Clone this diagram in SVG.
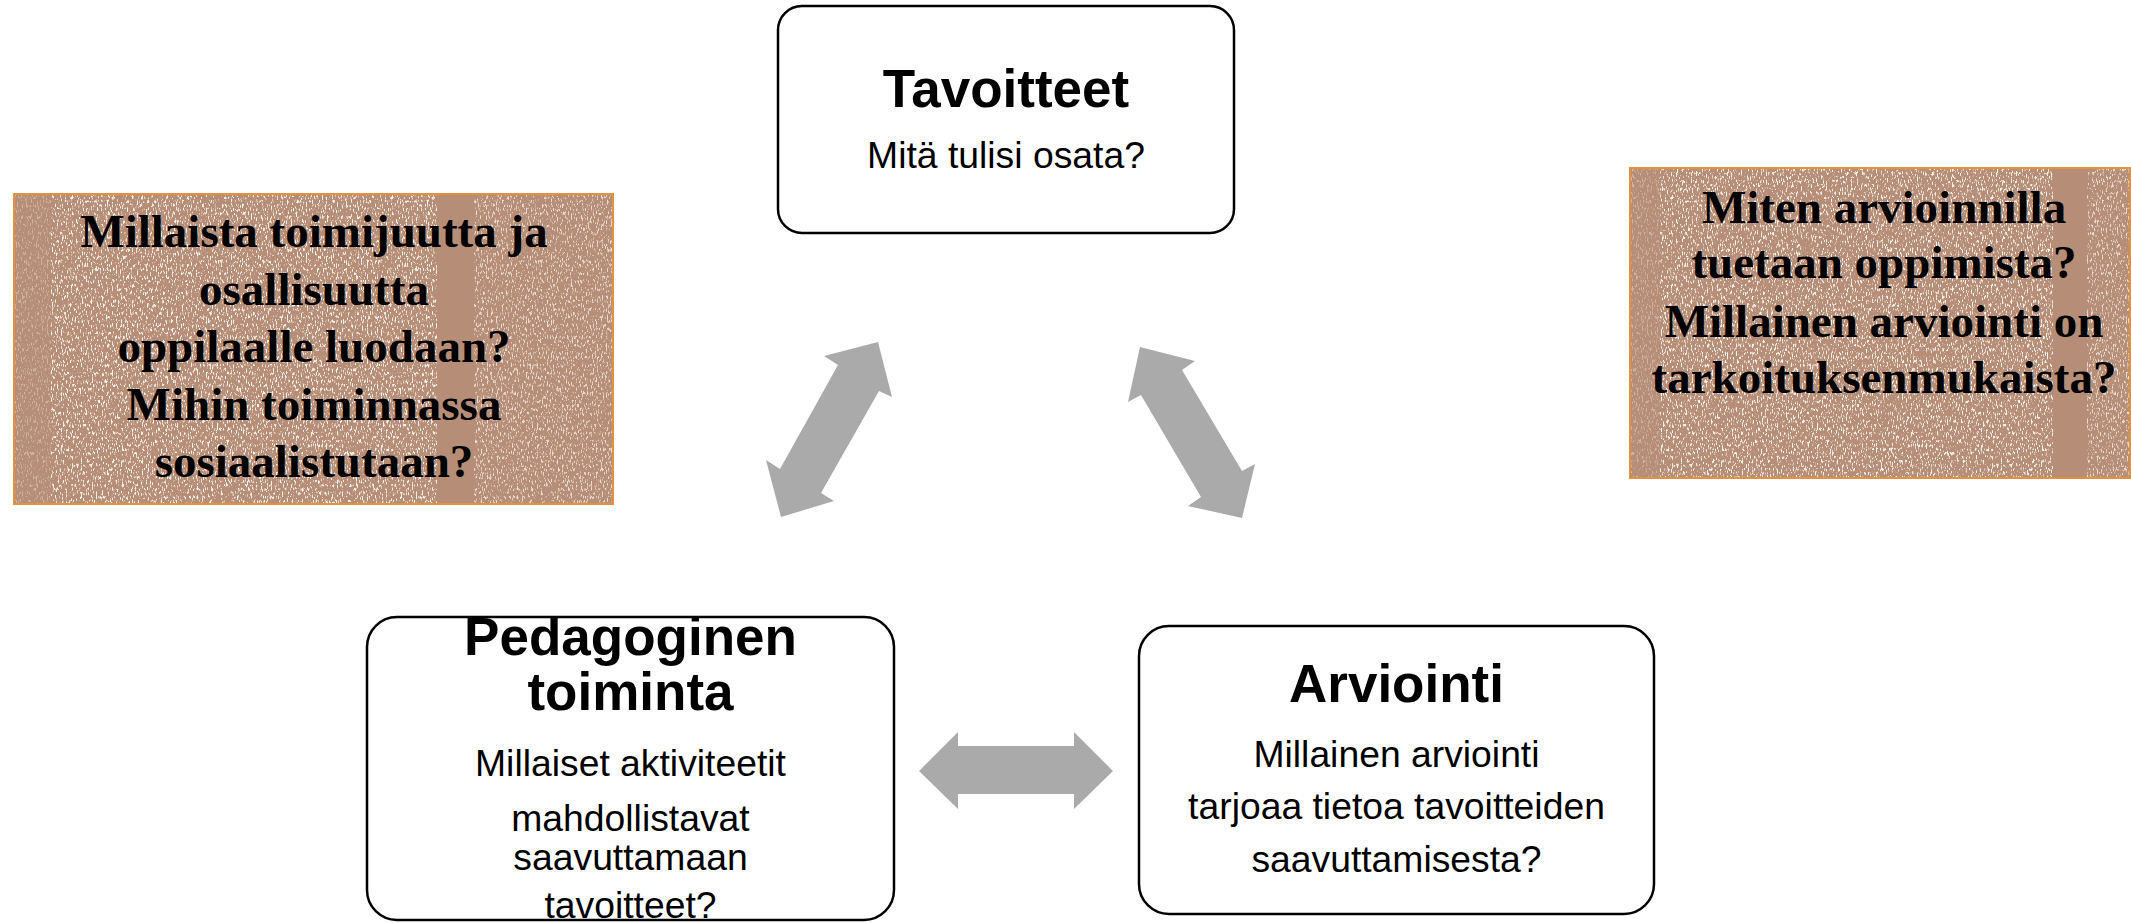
<svg xmlns="http://www.w3.org/2000/svg" width="2131" height="923" viewBox="0 0 2131 923">
<style>
.box{fill:#ffffff;stroke:#000000;stroke-width:2.5}
.title{font-family:"Liberation Sans",Arial,sans-serif;font-weight:bold;font-size:53px;fill:#000;text-anchor:middle}
.sub{font-family:"Liberation Sans",Arial,sans-serif;font-size:37.3px;fill:#000;text-anchor:middle}
.note{font-family:"Liberation Serif","Times New Roman",serif;font-weight:bold;font-size:47px;fill:#000;text-anchor:middle}
.tan{fill:#b68e77}
.tanborder{fill:none;stroke:#e2923e;stroke-width:2}
.arrow{fill:#aaaaaa}
.light{fill:#ffffff}
</style>
<defs>
<filter id="speck" x="0" y="0" width="100%" height="100%" filterUnits="objectBoundingBox">
<feTurbulence type="fractalNoise" baseFrequency="0.8 0.25" numOctaves="3" seed="7"/>
<feColorMatrix type="matrix" values="0 0 0 0 1  0 0 0 0 0.97  0 0 0 0 0.93  7 0 0 0 -3.85"/>
</filter>
</defs>
<g id="connectors">
<polygon class="arrow" points="878,342 892,397 879,391 821,493 834,501 781,517 766,460 780,469 838,365 824,356"/>
<polygon class="arrow" points="1140,347 1195,361 1182,370 1242,471 1255,464 1242,518 1188,506 1201,497 1141,395 1128,402"/>
<polygon class="arrow" points="919,771 958,732 958,746 1074,746 1074,732 1113,771 1074,809 1074,794 958,794 958,809"/>
</g>
<g id="note-left">
<rect class="tan" x="14" y="194" width="599" height="310"/>
<rect class="light" x="51" y="194" width="386" height="310" filter="url(#speck)" opacity="0.9"/>
<rect class="light" x="474" y="194" width="139" height="310" filter="url(#speck)" opacity="0.7"/>
<rect class="light" x="14" y="194" width="37" height="310" filter="url(#speck)" opacity="0.35"/>
<rect class="tanborder" x="14" y="194" width="599" height="310"/>
<text class="note" x="314" y="247">Millaista toimijuutta ja</text>
<text class="note" x="314" y="305">osallisuutta</text>
<text class="note" x="314" y="362">oppilaalle luodaan?</text>
<text class="note" x="314" y="420">Mihin toiminnassa</text>
<text class="note" x="314" y="477">sosiaalistutaan?</text>
</g>
<g id="note-right">
<rect class="tan" x="1630" y="168" width="500" height="310"/>
<rect class="light" x="1660" y="168" width="393" height="310" filter="url(#speck)" opacity="0.9"/>
<rect class="light" x="2087" y="168" width="43" height="310" filter="url(#speck)" opacity="0.7"/>
<rect class="light" x="1630" y="168" width="30" height="310" filter="url(#speck)" opacity="0.35"/>
<rect class="tanborder" x="1630" y="168" width="500" height="310"/>
<text class="note" x="1884" y="223">Miten arvioinnilla</text>
<text class="note" x="1884" y="278">tuetaan oppimista?</text>
<text class="note" x="1884" y="337">Millainen arviointi on</text>
<text class="note" x="1884" y="393">tarkoituksenmukaista?</text>
</g>
<g id="node-tavoitteet">
<rect class="box" x="778" y="6" width="456" height="227" rx="24"/>
<text class="title" x="1006" y="107">Tavoitteet</text>
<text class="sub" x="1006" y="168">Mitä tulisi osata?</text>
</g>
<g id="node-pedagoginen">
<rect class="box" x="367" y="617" width="527" height="303" rx="30"/>
<text class="title" x="630.5" y="655">Pedagoginen</text>
<text class="title" x="630.5" y="710">toiminta</text>
<text class="sub" x="630.5" y="776">Millaiset aktiviteetit</text>
<text class="sub" x="630.5" y="831">mahdollistavat</text>
<text class="sub" x="630.5" y="870">saavuttamaan</text>
<text class="sub" x="630.5" y="918">tavoitteet?</text>
</g>
<g id="node-arviointi">
<rect class="box" x="1139" y="626" width="515" height="288" rx="30"/>
<text class="title" x="1396.5" y="702">Arviointi</text>
<text class="sub" x="1396.5" y="767">Millainen arviointi</text>
<text class="sub" x="1396.5" y="819">tarjoaa tietoa tavoitteiden</text>
<text class="sub" x="1396.5" y="872">saavuttamisesta?</text>
</g>
</svg>
